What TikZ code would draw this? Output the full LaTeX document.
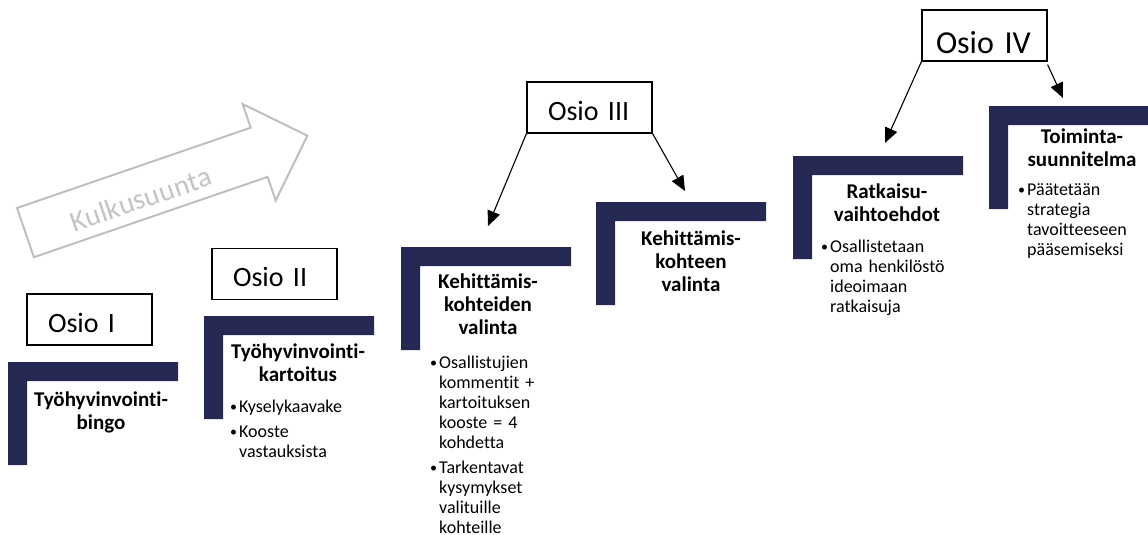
\documentclass[tikz,border=0pt]{standalone}
\usepackage{fontspec}
\setmainfont{Carlito}[Ligatures=NoCommon]
\newfontfamily\flowfont{Carlito}[LetterSpace=1]
\usetikzlibrary{arrows.meta}
\definecolor{stepnavy}{RGB}{38,40,84}
\definecolor{flowgray}{RGB}{191,191,191}
\definecolor{flowtext}{RGB}{196,196,196}
% one bullet point of a step description, and its continuation indent
\newcommand\bpt{\makebox[10pt][l]{\hspace{1pt}\raisebox{1pt}{\fontsize{14}{14}\selectfont\textbullet}}}
\newcommand\bind{\hspace*{10pt}}
\begin{document}
\begin{tikzpicture}[x=1pt,y=-1pt,
  osiobox/.style={draw=black, line width=1.1pt, minimum width=125pt, minimum height=51pt,
    inner ysep=0pt, align=left, text depth=0pt,
    font=\fontsize{28}{30}\selectfont},
  steptitle/.style={inner sep=0pt, anchor=base, align=center, text width=150pt,
    font=\fontsize{21}{23}\selectfont\bfseries},
  steplist/.style={inner sep=0pt, anchor=base west, align=left, text width=140pt,
    font=\fontsize{18}{20}\selectfont},
  conn/.style={draw=black, line width=1.1pt, -{Triangle[length=15pt,width=13pt]}},
  stepbar/.pic={\fill[stepnavy] (0,0) -- (170,0) -- (170,19) -- (19,19) -- (19,103) -- (0,103) -- cycle;}
]
\useasboundingbox (0,0) rectangle (1148,535);

% direction-of-flow arrow
\draw[flowgray, line width=2pt, line join=miter]
  (17,208) -- (250.7,127.7) -- (242.6,104) -- (307.4,135.7) -- (275.7,200.5)
  -- (267.6,176.9) -- (33.9,257.2) -- cycle;
\node[flowtext, rotate=19, inner sep=0pt, font=\flowfont\fontsize{29}{31}\selectfont] (flow) at (141,199) {Kulkusuunta};

% stair steps
\pic at (8,362) {stepbar};
\pic at (204,316) {stepbar};
\pic at (401,247) {stepbar};
\pic at (596,202) {stepbar};
\pic at (793,156) {stepbar};
\pic at (989,106) {stepbar};

% section boxes
\node[osiobox, inner xsep=21pt, text width=83pt, text height=25pt] (o1) at (89.5,319.5) {Osio I};
\node[osiobox, inner xsep=21pt, text width=83pt, text height=25pt] (o2) at (274.5,274) {Osio II};
\node[osiobox, inner xsep=21pt, text width=83pt, text height=26pt] (o3) at (589.5,107.5) {Osio III};
\node[osiobox, inner xsep=14pt, text width=97pt, text height=35pt, font=\fontsize{32}{34}\selectfont] (o4) at (984.5,35.5) {Osio IV};

% step titles
\node[steptitle] (t1) at (101,406) {Työhyvinvointi-\\bingo};
\node[steptitle] (t2) at (298,358) {Työhyvinvointi-\\kartoitus};
\node[steptitle] (t3) at (488,288) {Kehittämis-\\kohteiden\\valinta};
\node[steptitle] (t4) at (691,245) {Kehittämis-\\kohteen\\valinta};
\node[steptitle] (t5) at (887,198) {Ratkaisu-\\vaihtoehdot};
\node[steptitle] (t6) at (1082,143) {Toiminta-\\suunnitelma};

% step descriptions
\node[steplist] (d2) at (229,412) {\bpt Kyselykaavake\\[5pt]\bpt Kooste\\\bind vastauksista};
\node[steplist] (d3) at (429,368) {\bpt Osallistujien\\\bind kommentit +\\\bind kartoituksen\\\bind kooste = 4\\\bind kohdetta\\[5pt]\bpt Tarkentavat\\\bind kysymykset\\\bind valituille\\\bind kohteille};
\node[steplist] (d5) at (820,252) {\bpt Osallistetaan\\\bind oma henkilöstö\\\bind ideoimaan\\\bind ratkaisuja};
\node[steplist] (d6) at (1017,195) {\bpt Päätetään\\\bind strategia\\\bind tavoitteeseen\\\bind pääsemiseksi};

% arrow ends
\coordinate (a3l) at (488,226);
\coordinate (a3r) at (685,191);
\coordinate (a4l) at (885,143);
\coordinate (a4r) at (1063,98);

\draw[conn] (o3.south west) -- (a3l);
\draw[conn] (o3.south east) -- (a3r);
\draw[conn] (o4.south west) -- (a4l);
\draw[conn] ([yshift=-3pt]o4.south east) -- (a4r);
\end{tikzpicture}
\end{document}
